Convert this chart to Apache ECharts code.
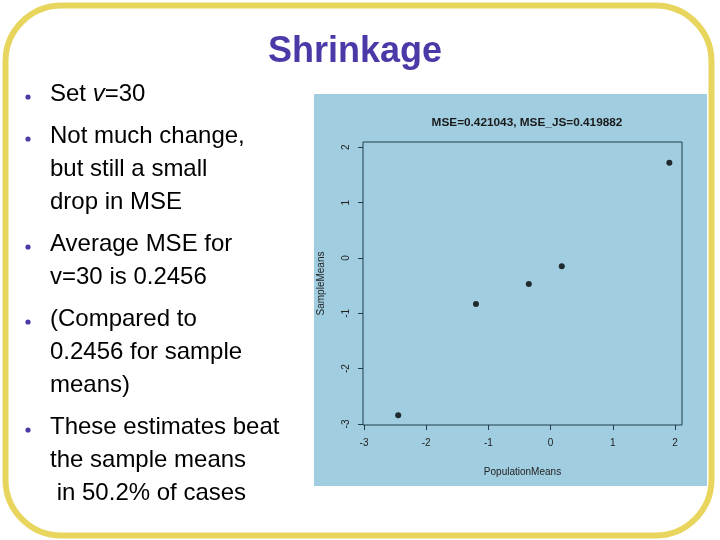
<!DOCTYPE html>
<html>
<head>
<meta charset="utf-8">
<script src="https://cdn.jsdelivr.net/npm/echarts@6/dist/echarts.min.js"></script>
<style>
  html, body { margin: 0; padding: 0; background: #ffffff; }
  #main { width: 720px; height: 540px; }
</style>
</head>
<body>
<div id="main"></div>
<script>
// slide text
var slideTitle = 'Shrinkage';
var bullets = [
    ['Set {i|v}=30'],
    ['Not much change,', 'but still a small', 'drop in MSE'],
    ['Average MSE for', 'v=30 is 0.2456'],
    ['(Compared to', '0.2456 for sample', 'means)'],
    ['These estimates beat', 'the sample means', ' in 50.2% of cases']
];

// scatter data
var popMeans    = [-2.45, -1.20, -0.35, 0.18, 1.91];
var sampleMeans = [-2.84, -0.83, -0.47, -0.15, 1.72];
var tickValues  = [-3, -2, -1, 0, 1, 2];
var plotTitle   = 'MSE=0.421043, MSE_JS=0.419882';

var myChart = echarts.init(document.getElementById('main'), null, {width: 720, height: 540});

var points = popMeans.map(function (x, i) { return [x, sampleMeans[i]]; });

// left column text + bullets
var textEls = [];
var y = 94;
bullets.forEach(function (lines) {
    textEls.push({
        type: 'circle',
        shape: {cx: 28, cy: y + 3, r: 2.6},
        style: {fill: '#4a3aa6'},
        z: 10
    });
    lines.forEach(function (line) {
        textEls.push({
            type: 'text',
            x: 50, y: y,
            style: {
                text: line,
                font: '24px "Liberation Sans", Arial, sans-serif',
                fill: '#000',
                verticalAlign: 'middle',
                rich: {i: {fontStyle: 'italic', fontSize: 24, fontFamily: 'Liberation Sans'}}
            },
            z: 10
        });
        y += 33;
    });
    y += 9;
});

var option = {
    animation: false,
    backgroundColor: 'transparent',
    graphic: [
        {   // slide frame
            type: 'rect',
            shape: {x: 5.5, y: 5.5, width: 706, height: 530, r: 56},
            style: {fill: '#ffffff', stroke: '#e8d55e', lineWidth: 6},
            z: -10
        },
        {   // plot panel
            type: 'rect',
            shape: {x: 314, y: 94, width: 393, height: 392},
            style: {fill: '#a0cee0'},
            z: -5
        },
        {
            type: 'text',
            x: 355, y: 52,
            style: {
                text: slideTitle,
                font: 'bold 36px "Liberation Sans", Arial, sans-serif',
                fill: '#4a3aa8',
                align: 'center',
                verticalAlign: 'middle'
            },
            z: 10
        }
    ].concat(textEls),
    title: {
        text: plotTitle,
        left: 522,
        top: 112,
        textAlign: 'center',
        textStyle: {
            fontFamily: 'Liberation Sans',
            fontSize: 11.8,
            fontWeight: 'bold',
            color: '#1a1a1a'
        }
    },
    grid: {
        left: 363,
        top: 142,
        width: 319,
        height: 283,
        show: true,
        borderColor: '#203c48',
        borderWidth: 1,
        backgroundColor: 'transparent'
    },
    xAxis: {
        type: 'value',
        min: -3.016,
        max: 2.113,
        name: 'PopulationMeans',
        nameLocation: 'middle',
        nameGap: 42,
        nameTextStyle: {fontFamily: 'Liberation Sans', fontSize: 10, color: '#222'},
        axisLine: {show: false, onZero: false},
        splitLine: {show: false},
        axisTick: {show: true, inside: false, length: 5, customValues: tickValues,
            lineStyle: {color: '#203c48'}},
        axisLabel: {customValues: tickValues, margin: 13, fontFamily: 'Liberation Sans',
            fontSize: 10, color: '#222'}
    },
    yAxis: {
        type: 'value',
        min: -3.018,
        max: 2.096,
        name: 'SampleMeans',
        nameLocation: 'middle',
        nameGap: 37,
        nameTextStyle: {fontFamily: 'Liberation Sans', fontSize: 10, color: '#222'},
        axisLine: {show: false, onZero: false},
        splitLine: {show: false},
        axisTick: {show: true, inside: false, length: 5, customValues: tickValues,
            lineStyle: {color: '#203c48'}},
        axisLabel: {customValues: tickValues, rotate: 90, margin: 12, fontFamily: 'Liberation Sans',
            fontSize: 10, color: '#222'}
    },
    series: [{
        type: 'scatter',
        data: points,
        symbol: 'circle',
        symbolSize: 6,
        itemStyle: {color: '#000'}
    }]
};

myChart.setOption(option);
</script>
</body>
</html>
